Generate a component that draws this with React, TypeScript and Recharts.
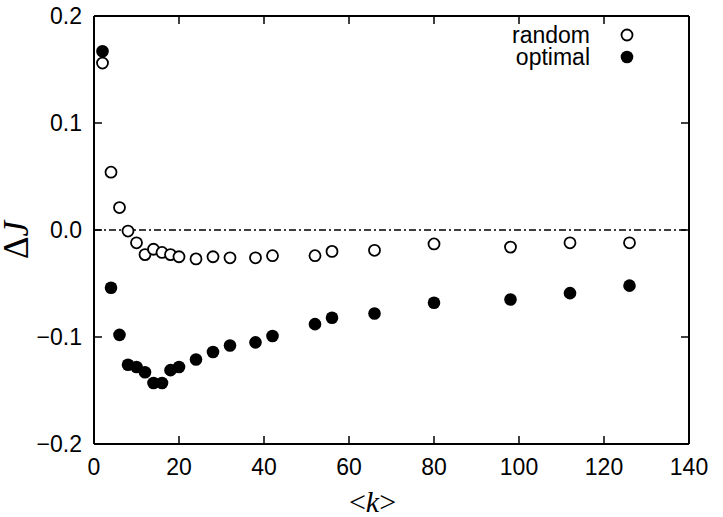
import {
  ScatterChart, Scatter, XAxis, YAxis, ReferenceLine, Label
} from 'recharts'

// mean degree <k> at which each run was measured
const kValues = [2, 4, 6, 8, 10, 12, 14, 16, 18, 20, 24, 28, 32, 38, 42, 52, 56, 66, 80, 98, 112, 126]

// change in J
const randomDJ = [
  0.156, 0.054, 0.021, -0.001, -0.012, -0.023, -0.018, -0.021, -0.023, -0.025, -0.027,
  -0.025, -0.026, -0.026, -0.024, -0.024, -0.020, -0.019, -0.013, -0.016, -0.012, -0.012,
]
const optimalDJ = [
  0.167, -0.054, -0.098, -0.126, -0.128, -0.133, -0.143, -0.143, -0.131, -0.128, -0.121,
  -0.114, -0.108, -0.105, -0.099, -0.088, -0.082, -0.078, -0.068, -0.065, -0.059, -0.052,
]

const xTicks = [0, 20, 40, 60, 80, 100, 120, 140]
const yTicks = [-0.2, -0.1, 0.0, 0.1, 0.2]

const randomData = kValues.map((k, i) => ({ k, dj: randomDJ[i] }))
const optimalData = kValues.map((k, i) => ({ k, dj: optimalDJ[i] }))

const sans = '"Liberation Sans", Arial, sans-serif'
const serif = '"Liberation Serif", "Times New Roman", serif'
const tickFont = { fill: '#000', fontSize: 23, fontFamily: sans }
const axisLine = { stroke: '#000', strokeWidth: 2 }
const tickLine = { stroke: '#000', strokeWidth: 1.5 }

const fmtY = (v: number) => v.toFixed(1).replace('-', '\u2212')
const blank = () => ''

function OpenDot(props: any) {
  const { cx, cy } = props
  return <circle cx={cx} cy={cy} r={5.5} fill="#fff" stroke="#000" strokeWidth={1.8} />
}

function FilledDot(props: any) {
  const { cx, cy } = props
  return <circle cx={cx} cy={cy} r={6.3} fill="#000" stroke="none" />
}

function NoDot() {
  return <g />
}

function LegendBox() {
  const rows = [
    { name: 'random', filled: false },
    { name: 'optimal', filled: true },
  ]
  return (
    <div style={{ position: 'absolute', top: 24, left: 480, fontFamily: sans, fontSize: 23, color: '#000' }}>
      {rows.map((r) => (
        <div key={r.name} style={{ display: 'flex', alignItems: 'center', height: 22 }}>
          <span style={{ width: 110, textAlign: 'right', lineHeight: '22px' }}>{r.name}</span>
          <svg width={74} height={22}>
            {r.filled
              ? <circle cx={37} cy={11} r={6.3} fill="#000" />
              : <circle cx={37} cy={11} r={5.5} fill="#fff" stroke="#000" strokeWidth={1.8} />}
          </svg>
        </div>
      ))}
    </div>
  )
}

export default function App() {
  return (
    <div style={{ position: 'absolute', left: 0, top: 0, width: 723, height: 517, background: '#fff' }}>
      <ScatterChart width={723} height={517} margin={{ top: 15, right: 33, left: 0, bottom: 0 }}>
        <XAxis
          dataKey="k" type="number" domain={[0, 140]} ticks={xTicks}
          height={73} tickSize={-8} tickMargin={23}
          tick={tickFont} axisLine={axisLine} tickLine={tickLine}
        >
          <Label
            content={(p: any) => {
              const vb = p.viewBox
              return (
                <text x={vb.x + vb.width / 2 - 19} y={vb.y + 68} textAnchor="middle"
                  fontFamily={serif} fontSize={30} fill="#000">
                  &lt;<tspan fontStyle="italic">k</tspan>&gt;
                </text>
              )
            }}
          />
        </XAxis>
        <XAxis
          xAxisId="top" orientation="top" dataKey="k" type="number" domain={[0, 140]} ticks={xTicks}
          height={1} tickSize={-8} tickFormatter={blank}
          axisLine={axisLine} tickLine={tickLine}
        />
        <YAxis
          dataKey="dj" type="number" domain={[-0.2, 0.2]} ticks={yTicks}
          width={94} tickSize={-8} tickMargin={20} tickFormatter={fmtY}
          tick={tickFont} axisLine={axisLine} tickLine={tickLine}
        >
          <Label
            content={(p: any) => {
              const vb = p.viewBox
              const cy = vb.y + vb.height / 2 + 10
              return (
                <text transform={`translate(28,${cy}) rotate(-90)`} textAnchor="middle"
                  fontFamily={serif} fontSize={35} fill="#000">
                  Δ<tspan fontStyle="italic">J</tspan>
                </text>
              )
            }}
          />
        </YAxis>
        <YAxis
          yAxisId="right" orientation="right" dataKey="dj" type="number" domain={[-0.2, 0.2]} ticks={yTicks}
          width={1} tickSize={-8} tickFormatter={blank}
          axisLine={axisLine} tickLine={tickLine}
        />
        <ReferenceLine y={0} stroke="#000" strokeWidth={1.3} strokeDasharray="7 3 2 3" />
        {/* invisible series so the top and right frame axes get drawn */}
        <Scatter data={randomData} xAxisId="top" yAxisId="right" shape={NoDot} legendType="none" isAnimationActive={false} />
        <Scatter name="random" data={randomData} shape={OpenDot} isAnimationActive={false} />
        <Scatter name="optimal" data={optimalData} shape={FilledDot} isAnimationActive={false} />
      </ScatterChart>
      <LegendBox />
    </div>
  )
}
